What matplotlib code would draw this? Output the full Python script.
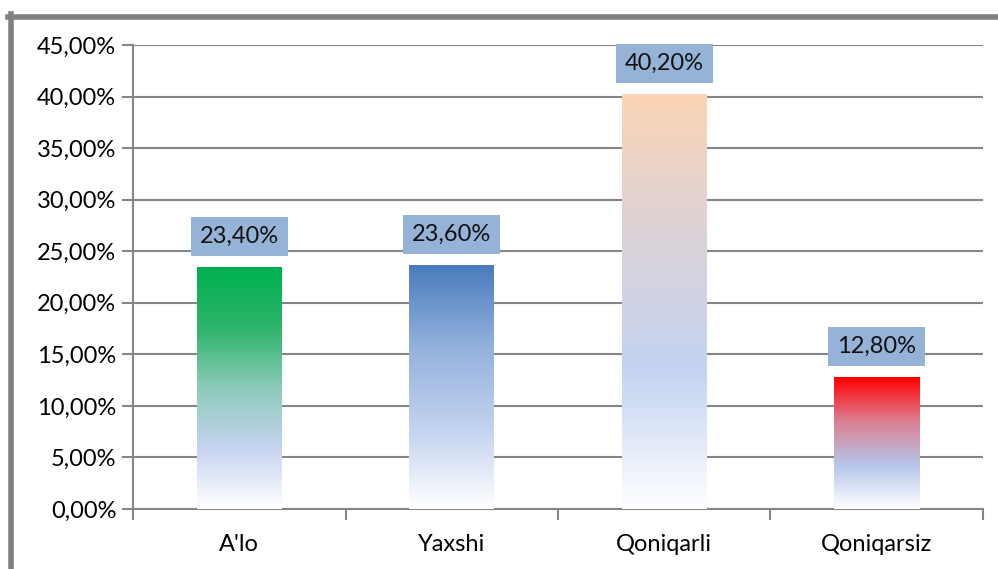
import numpy as np
import matplotlib.pyplot as plt
from matplotlib.colors import LinearSegmentedColormap
from matplotlib.lines import Line2D

categories = ["A'lo", "Yaxshi", "Qoniqarli", "Qoniqarsiz"]
values = [23.4, 23.6, 40.2, 12.8]
labels = ["23,40%", "23,60%", "40,20%", "12,80%"]
yticks = [0, 5, 10, 15, 20, 25, 30, 35, 40, 45]

# gradient stops, bottom -> top
gradients = [
    ["#ffffff", "#c6d3ef", "#8ecbbb", "#2db46a", "#00b050"],
    ["#ffffff", "#c2d2ef", "#93b1dc", "#4a7cbd"],
    ["#ffffff", "#c3d3f1", "#dcd2d8", "#fbd5b5"],
    ["#ffffff", "#b6c6ea", "#dc7f92", "#ff0000"],
]

plt.rcParams['font.family'] = ['Lato', 'DejaVu Sans']

fig = plt.figure(figsize=(9.98, 5.69), dpi=100)
ax = fig.add_axes([133 / 998, 1 - 509 / 569, (983 - 133) / 998, (509 - 45) / 569])

x = np.arange(len(categories))
width = 0.40
grey = "#868686"

for i, (v, stops) in enumerate(zip(values, gradients)):
    cmap = LinearSegmentedColormap.from_list(f"g{i}", stops)
    grad = np.linspace(0, 1, 256).reshape(-1, 1)
    ax.imshow(grad, cmap=cmap, origin="lower", aspect="auto",
              extent=[x[i] - width / 2, x[i] + width / 2, 0, v], zorder=3)
    ax.text(x[i], v + 3.0, labels[i], ha="center", va="center", fontsize=17,
            color="#111111", zorder=4,
            bbox=dict(boxstyle="square,pad=0.38", fc="#95b3d7", ec="none"))

ax.set_xlim(-0.5, len(categories) - 0.5)
ax.set_ylim(0, 45)
ax.set_yticks(yticks)
ax.set_yticklabels([f"{t},00%" for t in yticks], fontsize=17)
ax.set_xticks(x)
ax.set_xticklabels(categories, fontsize=17)
ax.set_xticks(np.arange(len(categories) + 1) - 0.5, minor=True)
ax.tick_params(axis="x", which="major", length=0, pad=18)
ax.tick_params(axis="x", which="minor", length=8, color=grey, width=1.5)
ax.tick_params(axis="y", length=8, color=grey, width=1.5, pad=4)
ax.yaxis.grid(True, color=grey, linewidth=1.5, zorder=0)
ax.set_axisbelow(True)
for s in ["top", "right"]:
    ax.spines[s].set_visible(False)
for s in ["left", "bottom"]:
    ax.spines[s].set_color(grey)
    ax.spines[s].set_linewidth(1.5)

# outer chart frame (only left and top edges visible in the crop)
fig.add_artist(Line2D([10.5 / 998, 10.5 / 998], [0, 1 - 14 / 569],
                      color="#808080", linewidth=4, transform=fig.transFigure))
fig.add_artist(Line2D([8 / 998, 1], [1 - 16.5 / 569, 1 - 16.5 / 569],
                      color="#808080", linewidth=4, transform=fig.transFigure))

fig.savefig("out.png", dpi=100)
